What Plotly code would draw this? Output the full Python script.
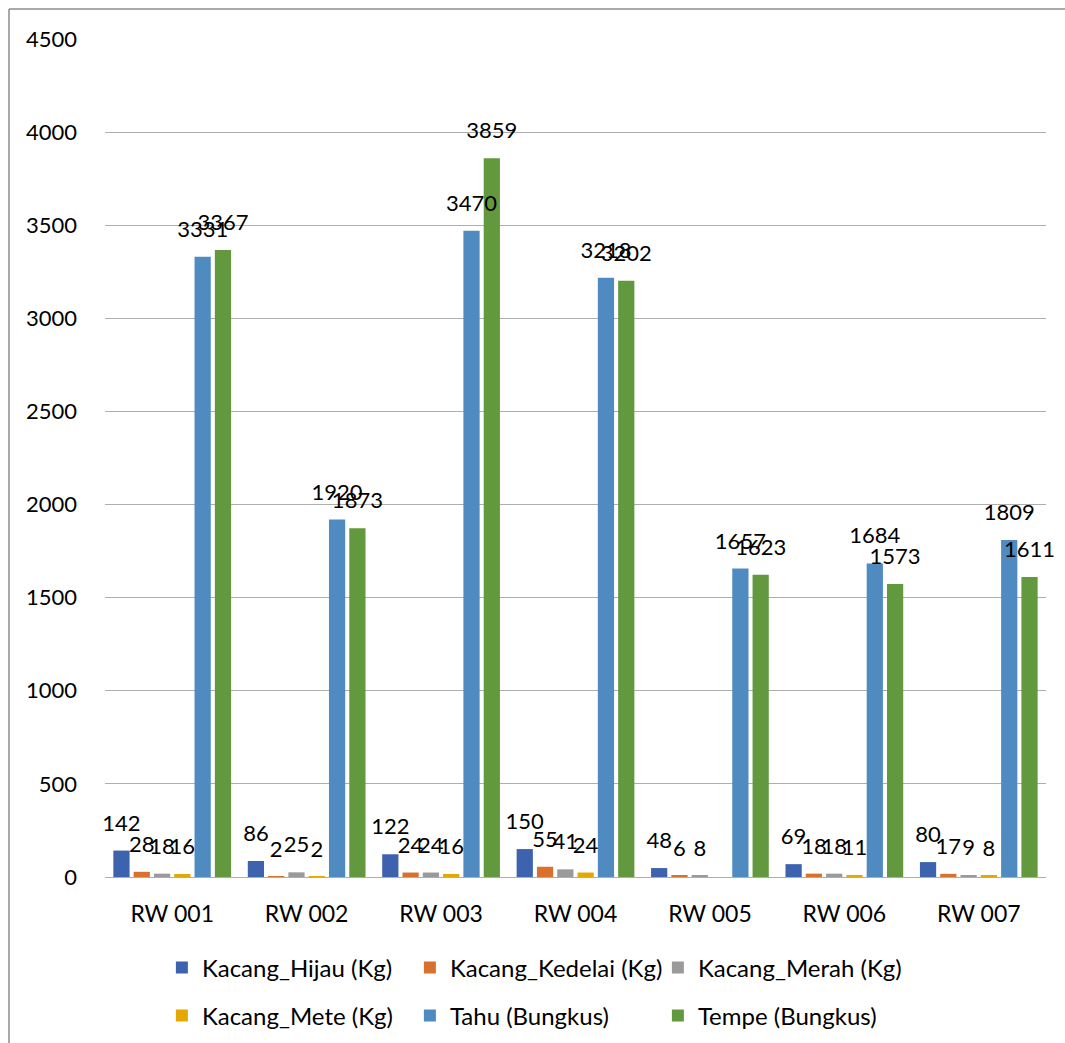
import plotly.graph_objects as go

categories = ["RW 001", "RW 002", "RW 003", "RW 004", "RW 005", "RW 006", "RW 007"]
kacang_hijau = [142, 86, 122, 150, 48, 69, 80]
kacang_kedelai = [28, 2, 24, 55, 6, 18, 17]
kacang_merah = [18, 25, 24, 41, 8, 18, 9]
kacang_mete = [16, 2, 16, 24, None, 11, 8]
tahu = [3331, 1920, 3470, 3218, 1657, 1684, 1809]
tempe = [3367, 1873, 3859, 3202, 1623, 1573, 1611]

series = [
    ("Kacang_Hijau (Kg)", kacang_hijau, "#3D62AE", "legend"),
    ("Kacang_Kedelai (Kg)", kacang_kedelai, "#D8702E", "legend"),
    ("Kacang_Merah (Kg)", kacang_merah, "#9A9A9A", "legend"),
    ("Kacang_Mete (Kg)", kacang_mete, "#E5A800", "legend2"),
    ("Tahu (Bungkus)", tahu, "#4F8BC0", "legend2"),
    ("Tempe (Bungkus)", tempe, "#62993E", "legend2"),
]

FONT = "Lato"
Y_MAX = 4500
LABEL_LIFT = 64  # label lift above bar tops, in value units (about 12 px)

fig = go.Figure()
# visible bars
for name, vals, color, lg in series:
    fig.add_trace(go.Bar(
        name=name, x=categories, y=vals,
        marker=dict(color=color, line=dict(width=0)),
        legend=lg, xaxis="x", yaxis="y",
    ))
# data labels, drawn on an overlaid subplot so they sit above every bar
for name, vals, color, lg in series:
    fig.add_trace(go.Bar(
        name=name, x=categories, y=vals,
        marker=dict(color="rgba(0,0,0,0)", line=dict(width=0)),
        texttemplate="%{y}", textposition="outside", textangle=0,
        constraintext="none", cliponaxis=False,
        textfont=dict(family=FONT, size=22, color="#000000"),
        showlegend=False, hoverinfo="skip",
        xaxis="x2", yaxis="y2",
    ))

legend_common = dict(
    orientation="h", xref="container", yref="container",
    xanchor="left", yanchor="middle",
    font=dict(family=FONT, size=24, color="#000000"),
    entrywidthmode="pixels", entrywidth=203,
    bgcolor="rgba(0,0,0,0)", borderwidth=0,
    traceorder="normal",
)

fig.update_layout(
    width=1065, height=1043,
    margin=dict(l=105, r=19, t=39, b=166),
    paper_bgcolor="white", plot_bgcolor="white",
    barmode="group", bargap=0.094, bargroupgap=0.2,
    font=dict(family=FONT, size=22, color="#000000"),
    showlegend=True,
    legend=dict(legend_common, x=0.152, y=1 - 968 / 1043),
    legend2=dict(legend_common, x=0.152, y=1 - 1016 / 1043),
    xaxis=dict(
        showgrid=False, showline=True, linecolor="#AEAEAE", linewidth=1,
        ticks="", ticklabelstandoff=16,
        tickfont=dict(family=FONT, size=23, color="#000000"),
    ),
    yaxis=dict(
        range=[0, Y_MAX], dtick=500, tick0=0,
        showgrid=True, gridcolor="#AEAEAE", gridwidth=1,
        zeroline=False, showline=False, ticks="",
        ticklabelstandoff=27,
        tickfont=dict(family=FONT, size=22, color="#000000"),
    ),
    xaxis2=dict(overlaying="x", matches="x", visible=False),
    yaxis2=dict(overlaying="y", range=[-LABEL_LIFT, Y_MAX - LABEL_LIFT],
                visible=False),
    shapes=[
        dict(type="line", xref="paper", yref="paper",
             x0=(9 - 105) / 941, x1=(1070 - 105) / 941,
             y0=(877 - 9) / 838, y1=(877 - 9) / 838,
             line=dict(color="#8C8C8C", width=1.5)),
        dict(type="line", xref="paper", yref="paper",
             x0=(9 - 105) / 941, x1=(9 - 105) / 941,
             y0=(877 - 9) / 838, y1=(877 - 1050) / 838,
             line=dict(color="#8C8C8C", width=1.5)),
    ],
)

fig.write_html("out.html")
